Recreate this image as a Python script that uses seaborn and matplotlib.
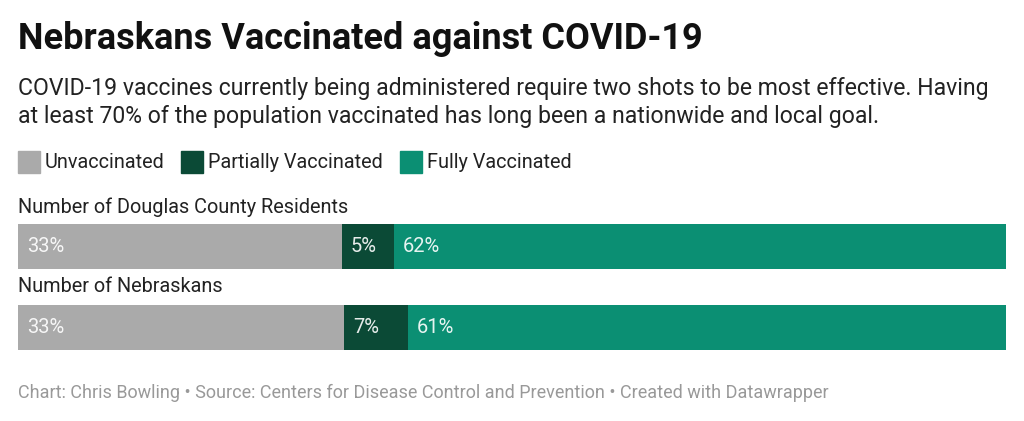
import matplotlib
matplotlib.use("Agg")
import matplotlib.pyplot as plt
import pandas as pd
import seaborn as sns
from matplotlib.patches import Rectangle

sns.set_style("white")
plt.rcParams["font.family"] = ["Roboto", "DejaVu Sans"]

# -----------------------------
# Data
# -----------------------------
groups = ["Number of Douglas County Residents", "Number of Nebraskans"]
categories = ["Unvaccinated", "Partially Vaccinated", "Fully Vaccinated"]
unvaccinated = [32.8, 33.0]
partially = [5.3, 6.5]
fully = [61.9, 60.5]
labels = [["33%", "5%", "62%"], ["33%", "7%", "61%"]]

colors = ["#aaaaaa", "#0b4a36", "#0b8f73"]

df = pd.DataFrame({
    "group": groups,
    "Unvaccinated": unvaccinated,
    "Partially Vaccinated": partially,
    "Fully Vaccinated": fully,
})
cum = df[categories].cumsum(axis=1)

W, H = 1024, 421
fig = plt.figure(figsize=(W / 100, H / 100), dpi=100)

# axes placed so the bars land where they sit in the original
ax = fig.add_axes([18 / W, 1 - 368 / H, 987.5 / W, 162 / H])

# stacked bars: draw longest cumulative first
for cat, col in zip(categories[::-1], colors[::-1]):
    sns.barplot(x=cum[cat], y=df["group"], orient="h", color=col,
                width=0.556, ax=ax, saturation=1, linewidth=0)

ax.set_xlim(0, 100)
ax.set_ylim(1.5, -0.5)
ax.axis("off")

# labels inside segments
for i in range(len(groups)):
    lefts = [0] + list(cum.iloc[i, :-1])
    for j, left in enumerate(lefts):
        ax.text(left + 0.9, i, labels[i][j], color="white", alpha=0.9,
                fontsize=14.5, va="center", ha="left")

# row labels
fig.text(18 / W, 1 - 207 / H, groups[0], fontsize=14.3, color="#222222", va="center")
fig.text(18 / W, 1 - 287 / H, groups[1], fontsize=14.3, color="#222222", va="center")

# title and subtitle
fig.text(18 / W, 1 - 39 / H, "Nebraskans Vaccinated against COVID-19",
         fontsize=26, fontweight="bold", color="#111111", va="center")
fig.text(18 / W, 1 - 89 / H,
         "COVID-19 vaccines currently being administered require two shots to be most effective. Having",
         fontsize=16.6, color="#222222", va="center")
fig.text(18 / W, 1 - 117 / H,
         "at least 70% of the population vaccinated has long been a nationwide and local goal.",
         fontsize=16.6, color="#222222", va="center")

# legend
leg_x = [18, 181, 400]
for x, cat, col in zip(leg_x, categories, colors):
    fig.patches.append(Rectangle((x / W, 1 - 173 / H), 22 / W, 22 / H,
                                 transform=fig.transFigure, color=col))
    fig.text((x + 27) / W, 1 - 162 / H, cat, fontsize=14.3, color="#222222", va="center")

# footer
fig.text(18 / W, 1 - 393 / H,
         "Chart: Chris Bowling \u2022 Source: Centers for Disease Control and Prevention \u2022 Created with Datawrapper",
         fontsize=13, color="#999999", va="center")

fig.savefig("out.png", dpi=100, facecolor="white")
